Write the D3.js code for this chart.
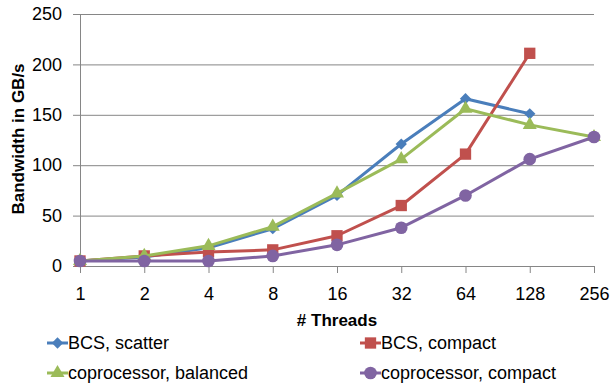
<!DOCTYPE html>
<html lang="en">
<head>
<meta charset="UTF-8">
<title>Bandwidth vs Threads</title>
<script src="https://cdnjs.cloudflare.com/ajax/libs/d3/7.8.5/d3.min.js"></script>
<style>
    body { margin: 0; background: #fff; }
    svg text { font-family: "Liberation Sans", Arial, sans-serif; fill: #000; }
</style>
</head>
<body>
<svg width="611" height="390"></svg>
<script>
    const threads = ["1", "2", "4", "8", "16", "32", "64", "128", "256"];
    const yTicks = [0, 50, 100, 150, 200, 250];

    const bcsScatter   = [5, 9, 18, 37, 70, 121, 166, 151, null];
    const bcsCompact   = [5, 10, 14, 16, 30, 60, 111, 211, null];
    const coprocBal    = [5, 10, 20, 39, 72, 106, 156, 140, 128];
    const coprocComp   = [5, 5, 5, 10, 21, 38, 70, 106, 128];

    const seriesNames = ["BCS, scatter", "BCS, compact", "coprocessor, balanced", "coprocessor, compact"];

    const series = [
        { name: seriesNames[0], values: bcsScatter, color: "#4a7ebb", shape: "diamond" },
        { name: seriesNames[1], values: bcsCompact, color: "#c0504d", shape: "square" },
        { name: seriesNames[2], values: coprocBal,  color: "#9bbb59", shape: "triangle" },
        { name: seriesNames[3], values: coprocComp, color: "#8064a2", shape: "circle" }
    ];

    const svg = d3.select("svg");
    const plotL = 80, plotR = 594, plotT = 14, plotB = 266;

    const x = d3.scalePoint().domain(threads).range([plotL, plotR]);
    const y = d3.scaleLinear().domain([0, 250]).range([plotB, plotT]);

    // gridlines + y axis
    const yAxis = svg.append("g")
        .attr("transform", `translate(${plotL},0)`)
        .call(d3.axisLeft(y).tickValues(yTicks).tickSizeInner(-(plotR - plotL)).tickSizeOuter(0).tickPadding(18));
    yAxis.select(".domain").attr("stroke", "#868686");
    yAxis.selectAll(".tick line").attr("stroke", "#868686").attr("x1", -7);
    yAxis.selectAll(".tick text").attr("font-size", 18).attr("x", -18);

    const xAxis = svg.append("g")
        .attr("transform", `translate(0,${plotB})`)
        .call(d3.axisBottom(x).tickSizeInner(7).tickSizeOuter(0).tickPadding(14));
    xAxis.select(".domain").attr("stroke", "#868686");
    xAxis.selectAll(".tick line").attr("stroke", "#868686");
    xAxis.selectAll(".tick text").attr("font-size", 18);

    // axis titles
    svg.append("text")
        .attr("x", (plotL + plotR) / 2)
        .attr("y", 326)
        .attr("text-anchor", "middle")
        .attr("font-size", 17)
        .attr("font-weight", "bold")
        .text("# Threads");

    svg.append("text")
        .attr("transform", "translate(24,139) rotate(-90)")
        .attr("text-anchor", "middle")
        .attr("font-size", 17)
        .attr("font-weight", "bold")
        .text("Bandwidth in GB/s");

    function symbolFor(shape) {
        if (shape === "diamond") return d3.symbol().type(d3.symbolSquare).size(64)();
        if (shape === "square") return d3.symbol().type(d3.symbolSquare).size(128)();
        if (shape === "triangle") return d3.symbol().type(d3.symbolTriangle).size(85)();
        return d3.symbol().type(d3.symbolCircle).size(125)();
    }
    function rot(shape) { return shape === "diamond" ? " rotate(45)" : ""; }

    const line = d3.line()
        .defined(d => d.v !== null)
        .x(d => x(d.t))
        .y(d => y(d.v));

    series.forEach(s => {
        const pts = s.values.map((v, i) => ({ t: threads[i], v: v }));
        const g = svg.append("g");
        g.append("path")
            .datum(pts)
            .attr("d", line)
            .attr("fill", "none")
            .attr("stroke", s.color)
            .attr("stroke-width", 3)
            .attr("stroke-linejoin", "round");
        g.selectAll("path.m")
            .data(pts.filter(d => d.v !== null))
            .enter()
            .append("path")
            .attr("class", "m")
            .attr("d", symbolFor(s.shape))
            .attr("transform", d => `translate(${x(d.t)},${y(d.v)})${rot(s.shape)}`)
            .attr("fill", s.color);
    });

    // legend
    const legendPos = [[47, 343], [360, 343], [47, 373], [360, 373]];
    series.forEach((s, i) => {
        const [lx, ly] = legendPos[i];
        const g = svg.append("g").attr("transform", `translate(${lx},${ly})`);
        g.append("line")
            .attr("x1", 0).attr("x2", 21)
            .attr("stroke", s.color).attr("stroke-width", 3);
        g.append("path")
            .attr("d", symbolFor(s.shape))
            .attr("transform", `translate(10.5,0)${rot(s.shape)}`)
            .attr("fill", s.color);
        g.append("text")
            .attr("x", 21)
            .attr("dy", "0.35em")
            .attr("font-size", 18)
            .text(s.name);
    });
</script>
</body>
</html>
